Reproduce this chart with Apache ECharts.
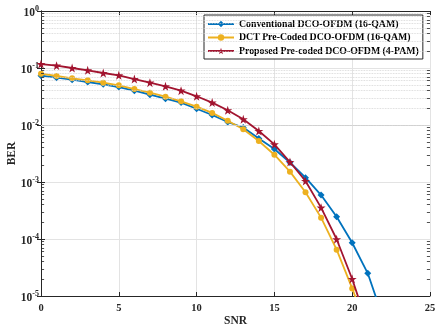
<!DOCTYPE html>
<html>
<head>
<meta charset="utf-8">
<script src="https://cdn.jsdelivr.net/npm/echarts@6/dist/echarts.min.js"></script>
<style>
  html, body { margin: 0; padding: 0; background: #fff; }
  #chart { width: 443px; height: 327px; }
</style>
</head>
<body>
<div id="chart"></div>
<script>
// SNR (dB) sample points
var snr = [0, 1, 2, 3, 4, 5, 6, 7, 8, 9, 10, 11, 12, 13, 14, 15, 16, 17, 18, 19, 20, 21, 22];

// BER curves
var conventional = [0.0733, 0.0676, 0.0624, 0.0568, 0.0518, 0.0464, 0.040, 0.034, 0.029, 0.0247, 0.0193, 0.0150,
  0.0113, 0.0090, 0.0058, 0.0038, 0.0022, 0.00119, 5.9e-4, 2.46e-4, 8.6e-5, 2.5e-5, 4e-6];
var dctPrecoded = [0.0794, 0.0724, 0.066, 0.0608, 0.0553, 0.0497, 0.0428, 0.0369, 0.0314, 0.026, 0.021, 0.0163,
  0.0119, 0.0084, 0.00524, 0.00301, 0.00152, 6.6e-4, 2.37e-4, 6.5e-5, 1.36e-5, 2.5e-6];
var proposed = [0.117, 0.110, 0.100, 0.091, 0.0817, 0.0743, 0.0641, 0.0553, 0.0477, 0.040, 0.0319, 0.0247,
  0.0181, 0.0126, 0.00785, 0.00458, 0.00224, 0.00104, 3.55e-4, 9.9e-5, 1.99e-5, 3e-6];

var names = ['Conventional DCO-OFDM (16-QAM)', 'DCT Pre-Coded DCO-OFDM (16-QAM)', 'Proposed Pre-coded DCO-OFDM (4-PAM)'];
var decades = [-5, -4, -3, -2, -1];

var font = 'Liberation Serif';
var axisColor = '#262626';

function pairs(vals) {
  return vals.map(function (v, i) { return [snr[i], v]; });
}

// minor log grid lines (2..9 in each decade) and small tick marks on the box
var minorGrid = [];
var minorTicks = [];
decades.forEach(function (n) {
  for (var k = 2; k <= 9; k++) {
    var v = k * Math.pow(10, n);
    minorGrid.push({ yAxis: v });
    minorTicks.push([{ coord: [0, v] }, { coord: [0.2, v] }]);
    minorTicks.push([{ coord: [24.8, v] }, { coord: [25, v] }]);
  }
});

function supLabel(v) {
  var e = Math.round(Math.log10(v));
  return '{b|10}{s|' + e + '}';
}

var chart = echarts.init(document.getElementById('chart'));
chart.setOption({
  animation: false,
  backgroundColor: '#fff',
  grid: { left: 41, right: 13, top: 11, bottom: 31, containLabel: false, outerBoundsMode: 'none' },
  legend: {
    orient: 'vertical',
    left: 204,
    top: 15,
    backgroundColor: '#fff',
    borderColor: '#262626',
    borderWidth: 1,
    borderRadius: 0,
    padding: [4, 4, 3, 3],
    itemWidth: 26,
    itemHeight: 8,
    itemGap: 3.5,
    textStyle: { fontFamily: font, fontWeight: 'bold', fontSize: 9.8, color: '#000' },
    data: names
  },
  xAxis: [{
    type: 'value', min: 0, max: 25, interval: 5,
    name: 'SNR', nameLocation: 'middle', nameGap: 19, nameMoveOverlap: false,
    nameTextStyle: { fontFamily: font, fontWeight: 'bold', fontSize: 11.5, color: axisColor },
    axisLine: { lineStyle: { color: axisColor, width: 1 } },
    axisTick: { inside: true, length: 4, lineStyle: { color: axisColor } },
    axisLabel: { fontFamily: font, fontWeight: 'bold', fontSize: 10.5, color: axisColor, margin: 7 },
    splitLine: { show: true, lineStyle: { color: '#e3e3e3', width: 1 } }
  }, {
    type: 'value', min: 0, max: 25, interval: 5, position: 'top',
    axisLine: { lineStyle: { color: axisColor, width: 1 } },
    axisTick: { inside: true, length: 4, lineStyle: { color: axisColor } },
    axisLabel: { show: false },
    splitLine: { show: false }
  }],
  yAxis: [{
    type: 'log', logBase: 10, min: 1e-5, max: 1,
    name: 'BER', nameLocation: 'middle', nameGap: 23, nameMoveOverlap: false,
    nameTextStyle: { fontFamily: font, fontWeight: 'bold', fontSize: 11.5, color: axisColor },
    axisLine: { show: true, lineStyle: { color: axisColor, width: 1 } },
    axisTick: { inside: true, length: 4, lineStyle: { color: axisColor } },
    axisLabel: {
      margin: 2,
      fontFamily: font, fontWeight: 'bold', fontSize: 11.5, color: axisColor,
      formatter: supLabel,
      rich: {
        b: { fontFamily: font, fontWeight: 'bold', fontSize: 11.5, color: axisColor, padding: [5, 0, 0, 0] },
        s: { fontFamily: font, fontWeight: 'bold', fontSize: 8, color: axisColor, padding: [0, 0, 4, 0] }
      }
    },
    splitLine: { show: true, lineStyle: { color: '#e3e3e3', width: 1 } }
  }, {
    type: 'log', logBase: 10, min: 1e-5, max: 1, position: 'right',
    axisLine: { show: true, lineStyle: { color: axisColor, width: 1 } },
    axisTick: { inside: true, length: 4, lineStyle: { color: axisColor } },
    axisLabel: { show: false },
    splitLine: { show: false }
  }],
  series: [{
    name: 'minor',
    type: 'line',
    data: [],
    silent: true,
    markLine: {
      silent: true, symbol: 'none', animation: false,
      label: { show: false },
      lineStyle: { type: 'dotted', color: '#d0d0d0', width: 0.8 },
      data: minorGrid
    }
  }, {
    name: 'minorTicks',
    type: 'line',
    data: [],
    silent: true,
    markLine: {
      silent: true, symbol: 'none', animation: false,
      label: { show: false },
      lineStyle: { type: 'solid', color: axisColor, width: 0.8 },
      data: minorTicks
    }
  }, {
    name: names[0],
    type: 'line',
    data: pairs(conventional),
    symbol: 'diamond', symbolSize: 7,
    lineStyle: { width: 1.8, color: '#0072BD' },
    itemStyle: { color: '#0072BD' },
    z: 3
  }, {
    name: names[1],
    type: 'line',
    data: pairs(dctPrecoded),
    symbol: 'circle', symbolSize: 6,
    lineStyle: { width: 1.8, color: '#EDB120' },
    itemStyle: { color: '#EDB120' },
    z: 4
  }, {
    name: names[2],
    type: 'line',
    data: pairs(proposed),
    symbol: 'path://M50,0 L61.8,35.5 L100,35.5 L69.1,57.4 L80.9,93.1 L50,71.2 L19.1,93.1 L30.9,57.4 L0,35.5 L38.2,35.5 Z',
    symbolSize: 9,
    lineStyle: { width: 1.8, color: '#A2142F' },
    itemStyle: { color: '#A2142F' },
    z: 5
  }]
});
</script>
</body>
</html>
